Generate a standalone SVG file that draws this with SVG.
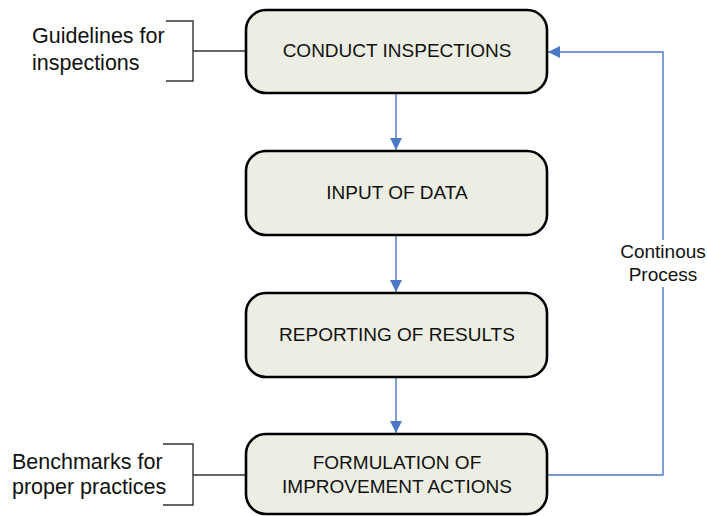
<svg xmlns="http://www.w3.org/2000/svg" width="707" height="516" viewBox="0 0 707 516">
<defs>
<style>
.box{fill:#EDEEE3;stroke:#000;stroke-width:2.6}
.bt{font-family:"Liberation Sans",Arial,sans-serif;font-size:19px;fill:#111;text-anchor:middle}
.lt{font-family:"Liberation Sans",Arial,sans-serif;font-size:21.5px;fill:#111}
.ct{font-family:"Liberation Sans",Arial,sans-serif;font-size:19px;fill:#111;text-anchor:middle}
.flow{fill:none;stroke:#4A78C4;stroke-width:1.4}
.brk{fill:none;stroke:#333;stroke-width:1.4}
</style>
<marker id="ah" viewBox="0 0 12 12" refX="12" refY="6" markerWidth="12" markerHeight="12" markerUnits="userSpaceOnUse" orient="auto">
<path d="M0,0 L12,6 L0,12 Z" fill="#4A78C4"/>
</marker>
</defs>
<g id="connectors">
<line class="flow" x1="396" y1="94" x2="396" y2="150" marker-end="url(#ah)"/>
<line class="flow" x1="396" y1="236" x2="396" y2="292" marker-end="url(#ah)"/>
<line class="flow" x1="396" y1="378" x2="396" y2="433" marker-end="url(#ah)"/>
<polyline class="flow" points="548,475 663,475 663,287"/>
<polyline class="flow" points="663,240 663,52 548,52" marker-end="url(#ah)"/>
<polyline class="brk" points="166,21 193,21 193,81 166,81"/>
<line class="brk" x1="193" y1="51" x2="246" y2="51"/>
<polyline class="brk" points="163,444 193,444 193,505 163,505"/>
<line class="brk" x1="193" y1="475" x2="246" y2="475"/>
</g>
<g id="conduct">
<rect class="box" x="246" y="10" width="301" height="83" rx="20"/>
<text class="bt" x="397" y="57">CONDUCT INSPECTIONS</text>
</g>
<g id="input">
<rect class="box" x="246" y="151" width="301" height="84" rx="20"/>
<text class="bt" x="397" y="199">INPUT OF DATA</text>
</g>
<g id="reporting">
<rect class="box" x="246" y="293" width="301" height="84" rx="20"/>
<text class="bt" x="397" y="341">REPORTING OF RESULTS</text>
</g>
<g id="formulation">
<rect class="box" x="246" y="434" width="301" height="80" rx="20"/>
<text class="bt" x="397" y="469">FORMULATION OF</text>
<text class="bt" x="397" y="493">IMPROVEMENT ACTIONS</text>
</g>
<g id="guidelines">
<text class="lt" x="32" y="43">Guidelines for</text>
<text class="lt" x="32" y="70">inspections</text>
</g>
<g id="benchmarks">
<text class="lt" x="12" y="469">Benchmarks for</text>
<text class="lt" x="12" y="494">proper practices</text>
</g>
<g id="continous">
<text class="ct" x="663" y="258">Continous</text>
<text class="ct" x="663" y="281">Process</text>
</g>
</svg>
